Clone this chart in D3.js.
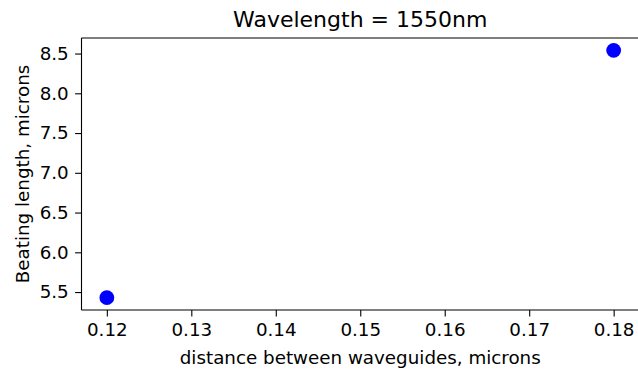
<!DOCTYPE html>
<html>
<head>
<meta charset="utf-8">
<script src="https://cdn.jsdelivr.net/npm/d3@7/dist/d3.min.js"></script>
<style>
  html, body { margin: 0; padding: 0; background: #fff; }
  svg { display: block; font-family: "DejaVu Sans", sans-serif; }
</style>
</head>
<body>
<svg id="chart" width="638" height="373"></svg>
<script>
// Waveguide separation (microns) and measured beating length (microns)
const distances = [0.12, 0.18];
const beatingLengths = [5.43, 8.54];
const xTicks = [0.12, 0.13, 0.14, 0.15, 0.16, 0.17, 0.18];
const yTicks = [5.5, 6.0, 6.5, 7.0, 7.5, 8.0, 8.5];
const titleText = "Wavelength = 1550nm";
const xLabelText = "distance between waveguides, microns";
const yLabelText = "Beating length, microns";

const svg = d3.select("#chart");
const plot = { left: 81.5, right: 639, top: 38, bottom: 310 };

// 5% padding around the data range on both axes
function padded(vals) {
  const [lo, hi] = d3.extent(vals);
  const m = (hi - lo) * 0.05;
  return [lo - m, hi + m];
}

const x = d3.scaleLinear().domain(padded(distances)).range([plot.left, plot.right]);
const y = d3.scaleLinear().domain(padded(beatingLengths)).range([plot.bottom, plot.top]);

const tickLen = 6.4, tickPad = 6.4, fontSize = 18.3;

const xAxis = d3.axisBottom(x)
  .tickValues(xTicks)
  .tickFormat(d => String(+d.toFixed(2)))
  .tickSize(tickLen).tickPadding(tickPad).tickSizeOuter(0);
const yAxis = d3.axisLeft(y)
  .tickValues(yTicks)
  .tickFormat(d3.format(".1f"))
  .tickSize(tickLen).tickPadding(tickPad).tickSizeOuter(0);

const gx = svg.append("g").attr("transform", `translate(0,${plot.bottom})`).call(xAxis);
const gy = svg.append("g").attr("transform", `translate(${plot.left},0)`).call(yAxis);

[gx, gy].forEach(g => {
  g.select(".domain").remove();
  g.selectAll(".tick line").attr("stroke", "#000").attr("stroke-width", 1.1);
  g.selectAll(".tick text")
    .attr("fill", "#000")
    .attr("font-size", fontSize)
    .attr("font-family", "DejaVu Sans, sans-serif");
});

// Spines
const spine = svg.append("g").attr("stroke", "#000").attr("stroke-width", 1.1).attr("fill", "none");
spine.append("line").attr("x1", plot.left).attr("x2", plot.left).attr("y1", plot.top).attr("y2", plot.bottom);
spine.append("line").attr("x1", plot.left).attr("x2", plot.right).attr("y1", plot.bottom).attr("y2", plot.bottom);
spine.append("line").attr("x1", plot.left).attr("x2", plot.right).attr("y1", plot.top).attr("y2", plot.top);
spine.append("line").attr("x1", plot.right).attr("x2", plot.right).attr("y1", plot.top).attr("y2", plot.bottom);

// Data points
svg.append("g").selectAll("circle")
  .data(distances.map((d, i) => ({ d, v: beatingLengths[i] })))
  .join("circle")
  .attr("cx", p => x(p.d))
  .attr("cy", p => y(p.v))
  .attr("r", 7.4)
  .attr("fill", "#0000ff");

// Title and axis labels
svg.append("text")
  .attr("x", (plot.left + plot.right) / 2).attr("y", 27)
  .attr("text-anchor", "middle").attr("font-size", 22).attr("fill", "#000")
  .text(titleText);

svg.append("text")
  .attr("x", (plot.left + plot.right) / 2).attr("y", 364)
  .attr("text-anchor", "middle").attr("font-size", fontSize).attr("fill", "#000")
  .text(xLabelText);

svg.append("text")
  .attr("transform", `translate(29,${(plot.top + plot.bottom) / 2}) rotate(-90)`)
  .attr("text-anchor", "middle").attr("font-size", fontSize).attr("fill", "#000")
  .text(yLabelText);
</script>
</body>
</html>
